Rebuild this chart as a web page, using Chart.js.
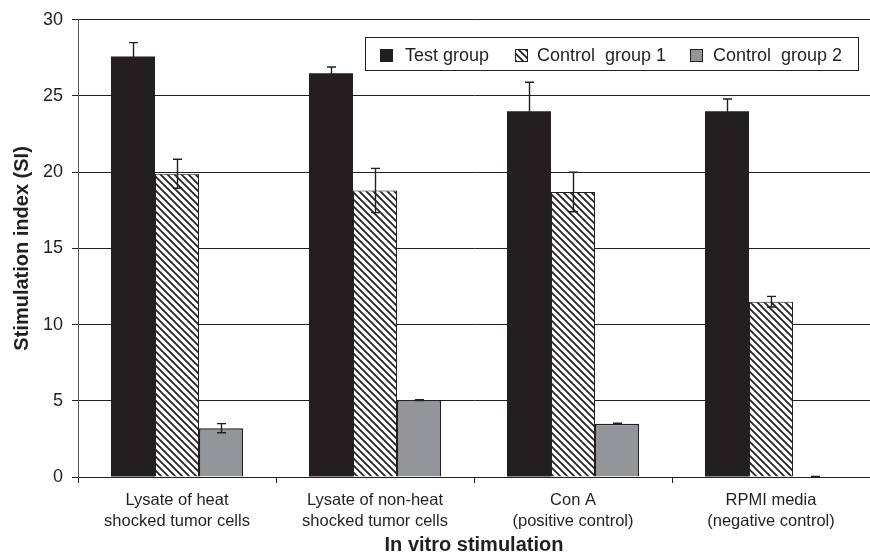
<!DOCTYPE html>
<html>
<head>
<meta charset="utf-8">
<script src="https://cdn.jsdelivr.net/npm/chart.js@4"></script>
<style>
  html, body { margin: 0; padding: 0; background: #fff; }
  #wrap { width: 870px; height: 559px; }
</style>
</head>
<body>
<div id="wrap"><canvas id="c"></canvas></div>
<script>
// Stimulation index per in vitro stimulation condition (mean ± error)
const categories = [
  ["Lysate of heat", "shocked tumor cells"],
  ["Lysate of non-heat", "shocked tumor cells"],
  ["Con A", "(positive control)"],
  ["RPMI media", "(negative control)"]
];
const seriesNames = ["Test group", "Control  group 1", "Control  group 2"];
const testGroup = [27.6, 26.5, 24.0, 24.0];
const testGroupErr = [0.9, 0.4, 1.9, 0.8];
const control1 = [19.9, 18.8, 18.7, 11.5];
const control1Err = [0.95, 1.45, 1.3, 0.35];
const control2 = [3.2, 5.05, 3.5, 0];
const control2Err = [0.3, 0.03, 0.03, 0.03];
const yTicks = [0, 5, 10, 15, 20, 25, 30];

const INK = '#231f20';
const GREY = '#939598';
const FONT = "'Liberation Sans', Arial, sans-serif";

// diagonal "\" hatch fill for the first control group
function makeHatch() {
  const s = 7;
  const c = document.createElement('canvas');
  c.width = s; c.height = s;
  const g = c.getContext('2d');
  g.fillStyle = '#fff';
  g.fillRect(0, 0, s, s);
  g.strokeStyle = INK;
  g.lineWidth = 1.7;
  g.beginPath();
  for (let k = -1; k <= 1; k++) {
    g.moveTo(k * s - 1, -1);
    g.lineTo(k * s + s + 1, s + 1);
  }
  g.stroke();
  return g.createPattern(c, 'repeat');
}

const ctx = document.getElementById('c').getContext('2d');
const hatch = makeHatch();

const fills = [INK, hatch, GREY];

// vertical error bars with caps
const errorBars = {
  id: 'errorBars',
  afterDatasetsDraw(chart) {
    const c = chart.ctx;
    const y = chart.scales.y;
    c.save();
    c.strokeStyle = INK;
    c.lineWidth = 1.4;
    chart.data.datasets.forEach((ds, i) => {
      const meta = chart.getDatasetMeta(i);
      meta.data.forEach((bar, j) => {
        const v = ds.data[j], e = ds.errors[j];
        const x = Math.round(bar.x) + 0.5;
        const yt = y.getPixelForValue(v + e);
        const yb = y.getPixelForValue(Math.max(0, v - e));
        c.beginPath();
        c.moveTo(x, yt); c.lineTo(x, yb);
        c.moveTo(x - 4.5, yt); c.lineTo(x + 4.5, yt);
        c.moveTo(x - 4.5, yb); c.lineTo(x + 4.5, yb);
        c.stroke();
      });
    });
    c.restore();
  }
};

// boxed legend inside the plot area
const boxedLegend = {
  id: 'boxedLegend',
  afterDraw(chart) {
    const c = chart.ctx;
    const bx = 365.5, by = 37.5, bw = 493, bh = 33;
    c.save();
    c.fillStyle = '#fff';
    c.fillRect(bx, by, bw, bh);
    c.strokeStyle = INK;
    c.lineWidth = 1;
    c.strokeRect(bx, by, bw, bh);
    const items = [
      { x: 380, tx: 405 },
      { x: 515, tx: 537 },
      { x: 690, tx: 713 }
    ];
    c.font = '18px ' + FONT;
    c.textBaseline = 'middle';
    c.textAlign = 'left';
    items.forEach((it, i) => {
      c.fillStyle = fills[i];
      c.fillRect(it.x, 49, 13, 13);
      if (i > 0) {
        c.strokeStyle = INK;
        c.lineWidth = 1;
        c.strokeRect(it.x + 0.5, 49.5, 12, 12);
      }
      c.fillStyle = INK;
      c.fillText(seriesNames[i], it.tx, 56);
    });
    c.restore();
  }
};

new Chart(ctx, {
  type: 'bar',
  data: {
    labels: categories,
    datasets: [
      { label: seriesNames[0], data: testGroup, errors: testGroupErr,
        backgroundColor: INK, borderWidth: 0 },
      { label: seriesNames[1], data: control1, errors: control1Err,
        backgroundColor: hatch, borderColor: INK, borderWidth: 1 },
      { label: seriesNames[2], data: control2, errors: control2Err,
        backgroundColor: GREY, borderColor: INK, borderWidth: 1.5 }
    ]
  },
  options: {
    responsive: true,
    maintainAspectRatio: false,
    animation: false,
    categoryPercentage: 0.667,
    barPercentage: 1.0,
    layout: { padding: { top: 19, right: 0, left: 0, bottom: 0 } },
    plugins: {
      legend: { display: false },
      tooltip: { enabled: false }
    },
    scales: {
      x: {
        grid: {
          offset: true,
          drawOnChartArea: false,
          drawTicks: true,
          tickLength: 6,
          color: INK,
          tickColor: INK
        },
        border: { color: INK, width: 1 },
        ticks: {
          color: INK,
          font: { family: FONT, size: 16.5, lineHeight: 1.33 },
          padding: 6,
          maxRotation: 0,
          autoSkip: false
        },
        title: {
          display: true,
          text: 'In vitro stimulation',
          color: INK,
          font: { family: FONT, size: 20, weight: 'bold' },
          padding: { top: 0, bottom: 2 }
        },
        afterFit(s) { s.height = 82; }
      },
      y: {
        min: 0,
        max: 30,
        afterBuildTicks(s) { s.ticks = yTicks.map(v => ({ value: v })); },
        grid: {
          color: INK,
          tickColor: INK,
          lineWidth: 1,
          tickLength: 6,
          drawTicks: true
        },
        border: { color: '#555', width: 1 },
        ticks: {
          color: INK,
          font: { family: FONT, size: 18 },
          padding: 9
        },
        title: {
          display: true,
          text: 'Stimulation index (SI)',
          color: INK,
          font: { family: FONT, size: 20, weight: 'bold' },
          padding: { top: 10, bottom: 0 }
        },
        afterFit(s) { s.width = 78; }
      }
    }
  },
  plugins: [errorBars, boxedLegend]
});
</script>
</body>
</html>
